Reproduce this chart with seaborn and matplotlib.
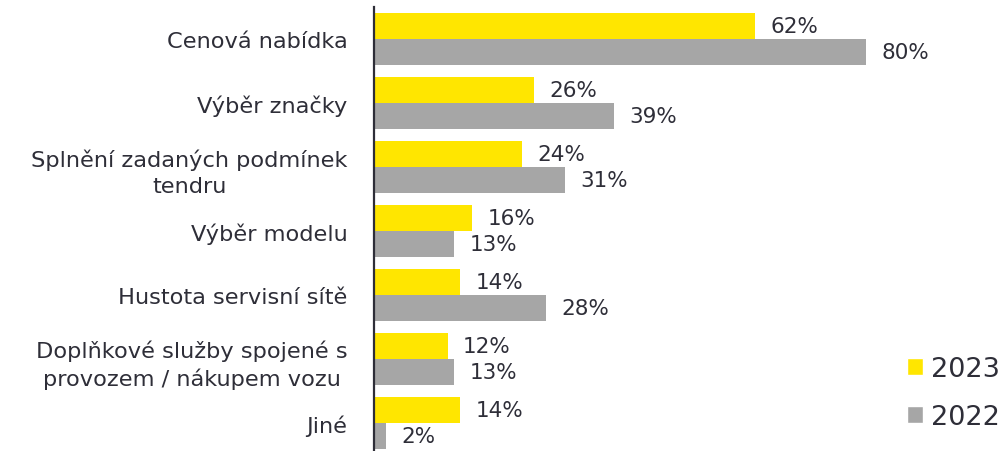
import pandas as pd
import seaborn as sns
import matplotlib.pyplot as plt
from matplotlib.patches import Patch

categories = ['Cenová nabídka', 'Výběr značky', 'Splnění zadaných podmínek\ntendru',
              'Výběr modelu', 'Hustota servisní sítě',
              'Doplňkové služby spojené s\nprovozem / nákupem vozu', 'Jiné']
years = ['2023', '2022']
values_2023 = [62, 26, 24, 16, 14, 12, 14]
values_2022 = [80, 39, 31, 13, 28, 13, 2]
colors = ['#FFE600', '#A6A6A6']
text_color = '#2E2E38'

df = pd.DataFrame({
    'category': categories * 2,
    'year': [years[0]] * len(categories) + [years[1]] * len(categories),
    'value': values_2023 + values_2022,
})

sns.set_style('white')
plt.rcParams['font.family'] = ['DejaVu Sans']

fig = plt.figure(figsize=(10.05, 4.52), dpi=100)
ax = fig.add_axes([374 / 1005, -4 / 452, 615 / 1005, 448 / 452])
sns.barplot(data=df, y='category', x='value', hue='year', palette=colors,
            orient='h', width=0.81, saturation=1, linewidth=0, ax=ax, legend=False)

ax.set_xlim(0, 100)
ax.set_ylim(6.5, -0.5)
ax.set_xlabel('')
ax.set_ylabel('')
ax.set_xticks([])
for s in ['top', 'right', 'bottom']:
    ax.spines[s].set_visible(False)
ax.spines['left'].set_color(text_color)
ax.spines['left'].set_linewidth(1.6)
ax.tick_params(axis='y', length=0, pad=19, labelsize=16.2, labelcolor=text_color)
for lbl in ax.get_yticklabels():
    lbl.set_multialignment('center')
    lbl.set_linespacing(1.4)

for cont in ax.containers:
    ax.bar_label(cont, labels=[f'{v:.0f}%' for v in cont.datavalues],
                 padding=11, fontsize=15.5, color=text_color)

handles = [Patch(facecolor=c, label=y) for c, y in zip(colors, years)]
fig.legend(handles=handles, loc='lower right', bbox_to_anchor=(1.0, 0.035),
           frameon=False, fontsize=19.5, handlelength=0.58, handleheight=0.58,
           handletextpad=0.3, labelspacing=0.8, borderpad=0, borderaxespad=0.2,
           labelcolor=text_color)

fig.savefig('out.png', dpi=100)
